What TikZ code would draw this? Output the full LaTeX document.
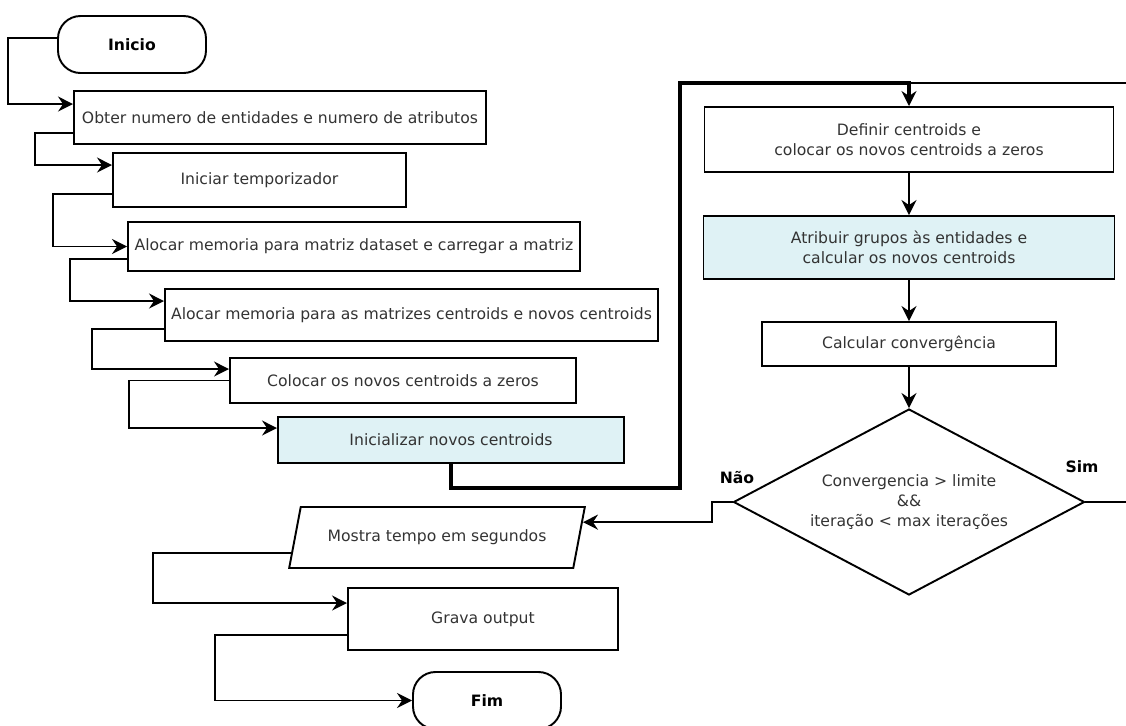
\documentclass[tikz,border=0pt]{standalone}
\usepackage{fontspec}
\setmainfont{DejaVu Sans}
\usetikzlibrary{arrows.meta,positioning,shapes.geometric}
\definecolor{fcblue}{HTML}{DFF2F5}
\definecolor{fctext}{HTML}{333333}

\begin{document}
\begin{tikzpicture}[x=0.2mm,y=-0.2mm,
    every node/.style={font=\fontsize{8.9}{11.2}\selectfont,text=fctext},
    proc/.style={draw,line width=1.1pt,rectangle,align=center,inner sep=2pt},
    term/.style={draw,line width=1.1pt,rounded corners=4.5mm,minimum width=29.6mm,
      minimum height=11.4mm,font=\fontsize{8.9}{11.2}\selectfont\bfseries,text=black},
    io/.style={draw,line width=1.1pt,trapezium,trapezium left angle=70,
      trapezium right angle=110,trapezium stretches=true},
    dec/.style={draw,line width=1.1pt,diamond,aspect=1.9,align=center,
      minimum width=70.2mm,minimum height=37.2mm,inner sep=0pt},
    flow/.style={-{Stealth[length=3mm,width=3mm,inset=1mm]},line width=1.1pt},
    thickflow/.style={flow,line width=2.6pt},
    lbl/.style={font=\fontsize{8.9}{11.2}\selectfont\bfseries,text=black}]

  \useasboundingbox (0,0) rectangle (1126,725);

  % ---- Left column: preparation ------------------------------
  \node[term] (inicio) at (132,44.5) {Inicio};
  \node[proc,minimum width=82.4mm,minimum height=10.6mm] (obter) at (280,117.5)
    {Obter numero de entidades e numero de atributos};
  \node[proc,minimum width=58.6mm,minimum height=10.8mm] (timer) at (259.5,180)
    {Iniciar temporizador};
  \node[proc,minimum width=90.4mm,minimum height=9.8mm] (dataset) at (354,246.5)
    {Alocar memoria para matriz dataset e carregar a matriz};
  \node[proc,minimum width=98.6mm,minimum height=10.4mm] (alocc) at (411.5,315)
    {Alocar memoria para as matrizes centroids e novos centroids};
  \node[proc,minimum width=69.2mm,minimum height=9mm] (zeros) at (403,380.5)
    {Colocar os novos centroids a zeros};
  \node[proc,fill=fcblue,minimum width=69.2mm,minimum height=9.2mm] (initc) at (451,440)
    {Inicializar novos centroids};

  % ---- Right column: main loop -------------------------------
  \node[proc,minimum width=81.8mm,minimum height=13mm] (definir) at (909,139.5)
    {Definir centroids e\\colocar os novos centroids a zeros};
  \node[proc,fill=fcblue,minimum width=82.2mm,minimum height=12.6mm] (atribuir) at (909,247.5)
    {Atribuir grupos às entidades e\\calcular os novos centroids};
  \node[proc,minimum width=58.8mm,minimum height=8.8mm] (conv) at (909,344)
    {Calcular convergência};
  \node[dec] (teste) at (909,502)
    {Convergencia > limite\\\&\&\\iteração < max iterações};
  \node[lbl] (nao) at (737,478) {Não};
  \node[lbl] (sim) at (1082,467) {Sim};

  % ---- Bottom: output ----------------------------------------
  \node[io,minimum width=59.2mm,minimum height=12.2mm] (mostra) at (437,537.5)
    {Mostra tempo em segundos};
  \node[proc,minimum width=54mm,minimum height=12.4mm] (grava) at (483,619)
    {Grava output};
  \node[term] (fim) at (487,700.5) {Fim};

  \coordinate (topo) at (680,83);

  % ---- Connectors --------------------------------------------
  \draw[flow] ([yshift=1.3mm]inicio.west) -- ++(-49,0) |- ([yshift=-2.8mm]obter.north west);
  \draw[flow] ([yshift=2.4mm]obter.south west) -- ++(-38,0) |- ([yshift=-2.6mm]timer.north west);
  \draw[flow] ([yshift=2.8mm]timer.south west) -- ++(-59,0) |- (dataset.west);
  \draw[flow] ([yshift=2.6mm]dataset.south west) -- ++(-57,0) |- ([yshift=-2.6mm]alocc.north west);
  \draw[flow] ([yshift=2.6mm]alocc.south west) -- ++(-72,0) |- ([yshift=-2.4mm]zeros.north west);
  \draw[flow] (zeros.west) -- ++(-100,0) |- ([yshift=-2.4mm]initc.north west);
  \draw[thickflow] (initc.south) -- ++(0,24) -| (topo) -| (definir.north);
  \draw[flow] (definir) -- (atribuir);
  \draw[flow] (atribuir) -- (conv);
  \draw[flow] (conv) -- (teste);
  \draw[line width=1.1pt] (teste.east) -- ++(60,0) |- (definir.north |- topo);
  \draw[flow] (teste.west) -- ++(-20.5,0) |- (mostra.6);
  \draw[flow] (mostra.186) -- ++(-138,0) |- ([yshift=-3.2mm]grava.north west);
  \draw[flow] ([yshift=3.2mm]grava.south west) -- ++(-132,0) |- (fim.west);

\end{tikzpicture}
\end{document}
